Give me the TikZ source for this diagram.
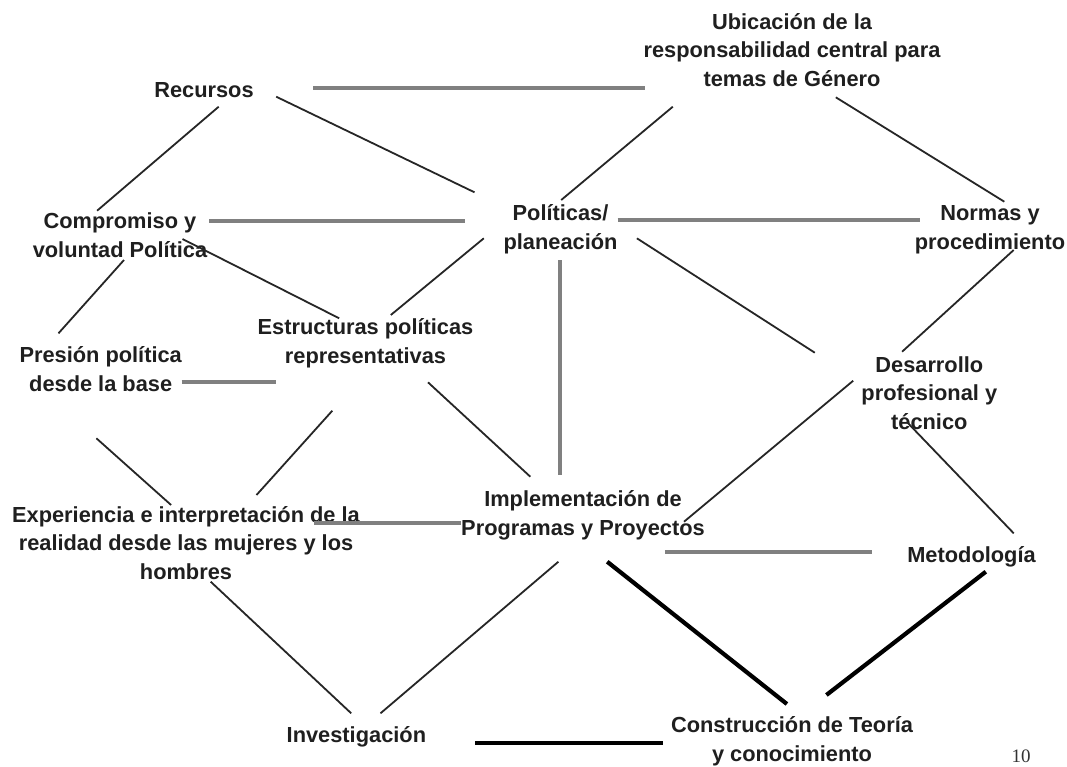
\documentclass[tikz,border=0pt]{standalone}
\usepackage{fontspec}
\setmainfont{Liberation Sans}
\newfontfamily\numfont{Liberation Serif}
\begin{document}
\begin{tikzpicture}[x=1pt,y=-1pt,
  lbl/.style={font=\fontsize{21.8}{28.3}\selectfont\bfseries, text=black!88, align=center, inner sep=0pt, anchor=base},
  grayline/.style={draw=black!50, line width=4pt},
  thinline/.style={draw=black!85, line width=1.8pt},
  thickline/.style={draw=black, line width=4.2pt}]
\useasboundingbox (0,0) rectangle (1067,766);
\fill[white] (0,0) rectangle (1067,766);

% nodes (anchor base = baseline of the last line)
\node[lbl] (ubi) at (792,86) {Ubicación de la\\responsabilidad central para\\temas de Género};
\node[lbl] (rec) at (204,97) {Recursos};
\node[lbl] (comp) at (120,257) {Compromiso y\\voluntad Política};
\node[lbl] (pol) at (560.5,249) {Políticas/\\planeación};
\node[lbl] (norm) at (990,249) {Normas y\\procedimiento};
\node[lbl] (estr) at (365.5,363) {Estructuras políticas\\representativas};
\node[lbl] (pres) at (100.7,391) {Presión política\\desde la base};
\node[lbl] (des) at (929.3,429) {Desarrollo\\profesional y\\técnico};
\node[lbl] (impl) at (583,535) {Implementación de\\Programas y Proyectos};
\node[lbl] (exp) at (186,579) {Experiencia e interpretación de la\\realidad desde las mujeres y los\\hombres};
\node[lbl] (met) at (971.5,562) {Metodología};
\node[lbl] (con) at (792,761) {Construcción de Teoría\\y conocimiento};
\node[lbl] (inv) at (356.4,742) {Investigación};
\node[font=\numfont\fontsize{19}{22}\selectfont, text=black!80, inner sep=0pt, anchor=base] (num) at (1021,762) {10};

% connector end points
\coordinate (recU1) at (313,87.5);   \coordinate (recU2) at (645,87.5);
\coordinate (recC1) at (218.7,106.7); \coordinate (recC2) at (97.1,210.7);
\coordinate (recP1) at (276.2,96.7);  \coordinate (recP2) at (474.5,192.3);
\coordinate (ubiP1) at (672.8,106.7); \coordinate (ubiP2) at (561.2,200);
\coordinate (ubiN1) at (835.8,97.3);  \coordinate (ubiN2) at (1004.3,201.7);
\coordinate (compP1) at (209,220.5);  \coordinate (compP2) at (465,220.5);
\coordinate (polN1) at (617.7,220);   \coordinate (polN2) at (919.5,220);
\coordinate (compE1) at (182.5,239);  \coordinate (compE2) at (339.2,318.3);
\coordinate (compPr1) at (124,260);   \coordinate (compPr2) at (58.5,333.3);
\coordinate (polE1) at (483.8,238.3); \coordinate (polE2) at (390.8,315);
\coordinate (polI1) at (560.1,260);   \coordinate (polI2) at (560.1,475);
\coordinate (polD1) at (636.9,238.3); \coordinate (polD2) at (814.8,352.7);
\coordinate (normD1) at (1013.7,250); \coordinate (normD2) at (902.1,351.7);
\coordinate (presE1) at (181.5,381.7); \coordinate (presE2) at (275.5,381.7);
\coordinate (estrX1) at (332.3,410.7); \coordinate (estrX2) at (256.5,495);
\coordinate (presX1) at (96.4,438.3); \coordinate (presX2) at (171.1,505);
\coordinate (estrI1) at (428,382.3);  \coordinate (estrI2) at (530.3,476.7);
\coordinate (expI1) at (314,523.3);   \coordinate (expI2) at (461.4,523.3);
\coordinate (desI1) at (853.2,380.7); \coordinate (desI2) at (684,521.7);
\coordinate (desM1) at (906.6,421.7); \coordinate (desM2) at (1013.7,533.3);
\coordinate (implM1) at (664.8,552.3); \coordinate (implM2) at (871.7,552.3);
\coordinate (expV1) at (210.7,581.7); \coordinate (expV2) at (351.2,713.3);
\coordinate (implV1) at (558.4,561.7); \coordinate (implV2) at (380.5,713.3);
\coordinate (implC1) at (607.2,561.7); \coordinate (implC2) at (786.9,704);
\coordinate (metC1) at (985.8,571.7); \coordinate (metC2) at (826.4,695);
\coordinate (invC1) at (475.2,742.7); \coordinate (invC2) at (663.1,742.7);

% gray connectors
\draw[grayline] (recU1) -- (recU2);
\draw[grayline] (compP1) -- (compP2);
\draw[grayline] (polN1) -- (polN2);
\draw[grayline] (presE1) -- (presE2);
\draw[grayline] (expI1) -- (expI2);
\draw[grayline] (implM1) -- (implM2);
\draw[grayline] (polI1) -- (polI2);

% thin connectors
\draw[thinline] (recC1) -- (recC2);
\draw[thinline] (recP1) -- (recP2);
\draw[thinline] (ubiP1) -- (ubiP2);
\draw[thinline] (ubiN1) -- (ubiN2);
\draw[thinline] (compE1) -- (compE2);
\draw[thinline] (compPr1) -- (compPr2);
\draw[thinline] (polE1) -- (polE2);
\draw[thinline] (polD1) -- (polD2);
\draw[thinline] (normD1) -- (normD2);
\draw[thinline] (estrX1) -- (estrX2);
\draw[thinline] (presX1) -- (presX2);
\draw[thinline] (estrI1) -- (estrI2);
\draw[thinline] (desI1) -- (desI2);
\draw[thinline] (desM1) -- (desM2);
\draw[thinline] (expV1) -- (expV2);
\draw[thinline] (implV1) -- (implV2);

% thick connectors
\draw[thickline] (implC1) -- (implC2);
\draw[thickline] (metC1) -- (metC2);
\draw[thickline] (invC1) -- (invC2);
\end{tikzpicture}
\end{document}
